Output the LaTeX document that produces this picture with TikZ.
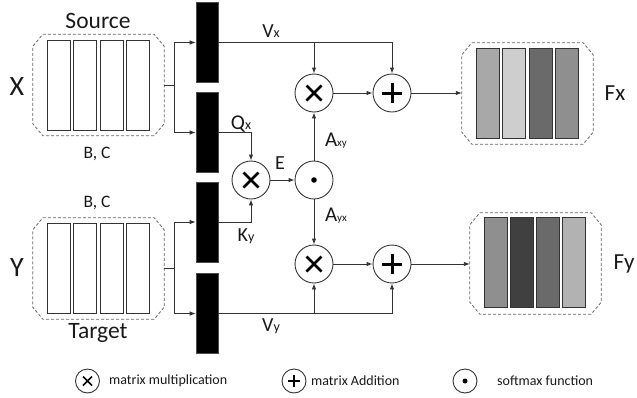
\documentclass[tikz,border=0pt]{standalone}
\usepackage{fontspec}
\setmainfont{Carlito}
\usetikzlibrary{arrows.meta}
\newcommand\fsz[1]{\fontsize{#1}{#1}\selectfont}
\newcommand\octbox[1]{%
  \draw[dbox] ([xshift=10pt]#1.north west) -- ([xshift=-10pt]#1.north east)
    -- ([yshift=-12pt]#1.north east) -- ([yshift=12pt]#1.south east)
    -- ([xshift=-10pt]#1.south east) -- ([xshift=10pt]#1.south west)
    -- ([yshift=12pt]#1.south west) -- ([yshift=-12pt]#1.north west) -- cycle;}
\begin{document}
\begin{tikzpicture}[x=1pt,y=-1pt,
  ln/.style={draw=black!80, line width=0.9pt},
  arr/.style={ln, -{Latex[length=6pt,width=4.5pt]}},
  dbox/.style={draw=black!60, line width=0.8pt, dash pattern=on 3pt off 2pt},
  cont/.style={draw=none, minimum width=131pt, minimum height=101pt, inner sep=0pt},
  cell/.style={draw=black!80, line width=0.9pt, minimum width=23pt, minimum height=90pt, inner sep=0pt},
  blk/.style={fill=black, draw=black!70, line width=0.6pt, minimum width=22pt, minimum height=80pt, inner sep=0pt},
  op/.style={circle, draw=black!80, line width=0.9pt, minimum size=38pt, inner sep=0pt, fill=white},
  timesop/.style={op, path picture={
    \draw[line width=2.8pt, black]
      ([shift={(-7.5,-7.5)}]path picture bounding box.center) -- ([shift={(7.5,7.5)}]path picture bounding box.center)
      ([shift={(-7.5,7.5)}]path picture bounding box.center) -- ([shift={(7.5,-7.5)}]path picture bounding box.center);}},
  plusop/.style={op, path picture={
    \draw[line width=3pt, black]
      ([shift={(-10,0)}]path picture bounding box.center) -- ([shift={(10,0)}]path picture bounding box.center)
      ([shift={(0,-10)}]path picture bounding box.center) -- ([shift={(0,10)}]path picture bounding box.center);}},
  dotop/.style={op, path picture={
    \fill[black] (path picture bounding box.center) circle (2.8pt);}},
  lgx/.style={op, minimum size=24pt, path picture={
    \draw[line width=1.7pt, black]
      ([shift={(-4.5,-4.5)}]path picture bounding box.center) -- ([shift={(4.5,4.5)}]path picture bounding box.center)
      ([shift={(-4.5,4.5)}]path picture bounding box.center) -- ([shift={(4.5,-4.5)}]path picture bounding box.center);}},
  lgp/.style={op, minimum size=24pt, path picture={
    \draw[line width=1.7pt, black]
      ([shift={(-6,0)}]path picture bounding box.center) -- ([shift={(6,0)}]path picture bounding box.center)
      ([shift={(0,-6)}]path picture bounding box.center) -- ([shift={(0,6)}]path picture bounding box.center);}},
  lgd/.style={op, minimum size=24pt, path picture={
    \fill[black] (path picture bounding box.center) circle (2.5pt);}},
  txt/.style={inner sep=0pt, text=black!90}
]
\useasboundingbox (0,0) rectangle (637,397);

% containers
\node[cont] (src) at (98.5,85) {};
\node[cont] (tgt) at (98.5,268.5) {};
\node[cont] (fx) at (527.5,93.5) {};
\node[cont] (fy) at (535.5,263.5) {};
\octbox{src}
\octbox{tgt}
\octbox{fx}
\octbox{fy}

% cells
\node[cell] (s1) at (59,85) {};
\node[cell] (s2) at (85.3,85) {};
\node[cell] (s3) at (111.6,85) {};
\node[cell] (s4) at (138,85) {};
\node[cell] (t1) at (59,268) {};
\node[cell] (t2) at (85.3,268) {};
\node[cell] (t3) at (111.6,268) {};
\node[cell] (t4) at (138,268) {};
\node[cell, fill={rgb,255:red,168;green,168;blue,168}] (f1) at (488,93) {};
\node[cell, fill={rgb,255:red,206;green,206;blue,206}] (f2) at (514.2,93) {};
\node[cell, fill={rgb,255:red,106;green,106;blue,106}] (f3) at (540.5,93) {};
\node[cell, fill={rgb,255:red,143;green,143;blue,143}] (f4) at (566.5,93) {};
\node[cell, fill={rgb,255:red,143;green,143;blue,143}] (g1) at (495.5,262.5) {};
\node[cell, fill={rgb,255:red,64;green,64;blue,64}] (g2) at (521.5,262.5) {};
\node[cell, fill={rgb,255:red,106;green,106;blue,106}] (g3) at (547.5,262.5) {};
\node[cell, fill={rgb,255:red,178;green,178;blue,178}] (g4) at (574,262.5) {};

% black projection bars
\node[blk] (b1) at (207,42.5) {};
\node[blk] (b2) at (207,132.5) {};
\node[blk] (b3) at (207,222) {};
\node[blk] (b4) at (207,313.5) {};

% operators
\node[timesop] (m1) at (314,93) {};
\node[plusop] (p1) at (392,93) {};
\node[timesop] (m2) at (251,180) {};
\node[dotop] (d) at (314,180) {};
\node[timesop] (m3) at (314,264) {};
\node[plusop] (p2) at (392,264) {};

% connectors
\draw[ln] (src.east) -- ++(10,0) coordinate (sj);
\draw[arr] (sj) |- (b1.west);
\draw[arr] (sj) |- (b2.west);
\draw[ln] (tgt.east) -- ++(10,0) coordinate (tj);
\draw[arr] (tj) |- (b3.west);
\draw[arr] (tj) |- (b4.west);

\draw[arr] (b1.east) -| (p1.north);
\draw[arr] (m1 |- b1.east) -- (m1.north);
\draw[arr] (b2.east) -| (m2.north);
\draw[arr] (b3.east) -| (m2.south);
\draw[arr] (m2.east) -- (d.west);
\draw[arr] (d.north) -- (m1.south);
\draw[arr] (d.south) -- (m3.north);
\draw[arr] (b4.east) -| (p2.south);
\draw[arr] (m3 |- b4.east) -- (m3.south);
\draw[arr] (m1.east) -- (p1.west);
\draw[arr] (m3.east) -- (p2.west);
\draw[arr] (p1.east) -- (fx.west |- p1.east);
\draw[arr] (p2.east) -- (fy.west |- p2.east);

% labels
\node[txt] (lsrc) at (98,21) {\fsz{23.5}Source};
\node[txt] (ltgt) at (98,333) {\fsz{23.5}Target};
\node[txt] (lx) at (17,87) {\fsz{28}X};
\node[txt] (ly) at (17,268) {\fsz{28}Y};
\node[txt] (lbc1) at (97,154) {\fsz{17.5}B, C};
\node[txt] (lbc2) at (97,203) {\fsz{17.5}B, C};
\node[txt] (lvx) at (271,31) {\fsz{20}V\fsz{14}x};
\node[txt] (lqx) at (241,124) {\fsz{21}Q\fsz{14}x};
\node[txt] (le) at (280,163) {\fsz{20}E};
\node[txt] (lky) at (246,236) {\fsz{20}K\fsz{14}y};
\node[txt] (laxy) at (336,141) {\fsz{21}A\fsz{11}xy};
\node[txt] (layx) at (336,216) {\fsz{21}A\fsz{11}yx};
\node[txt] (lvy) at (271,326) {\fsz{20}V\fsz{14}y};
\node[txt] (lfx) at (615,93) {\fsz{23}Fx};
\node[txt] (lfy) at (624,264) {\fsz{23}Fy};

% legend
\node[lgx] (kx) at (87.5,381) {};
\node[txt, anchor=west] (kxt) at (109,381) {\fsz{14}matrix multiplication};
\node[lgp] (kp) at (294,381) {};
\node[txt, anchor=west] (kpt) at (311,381) {\fsz{14}matrix Addition};
\node[lgd] (kd) at (465,381) {};
\node[txt, anchor=west] (kdt) at (497,381) {\fsz{14}softmax function};
\end{tikzpicture}
\end{document}
